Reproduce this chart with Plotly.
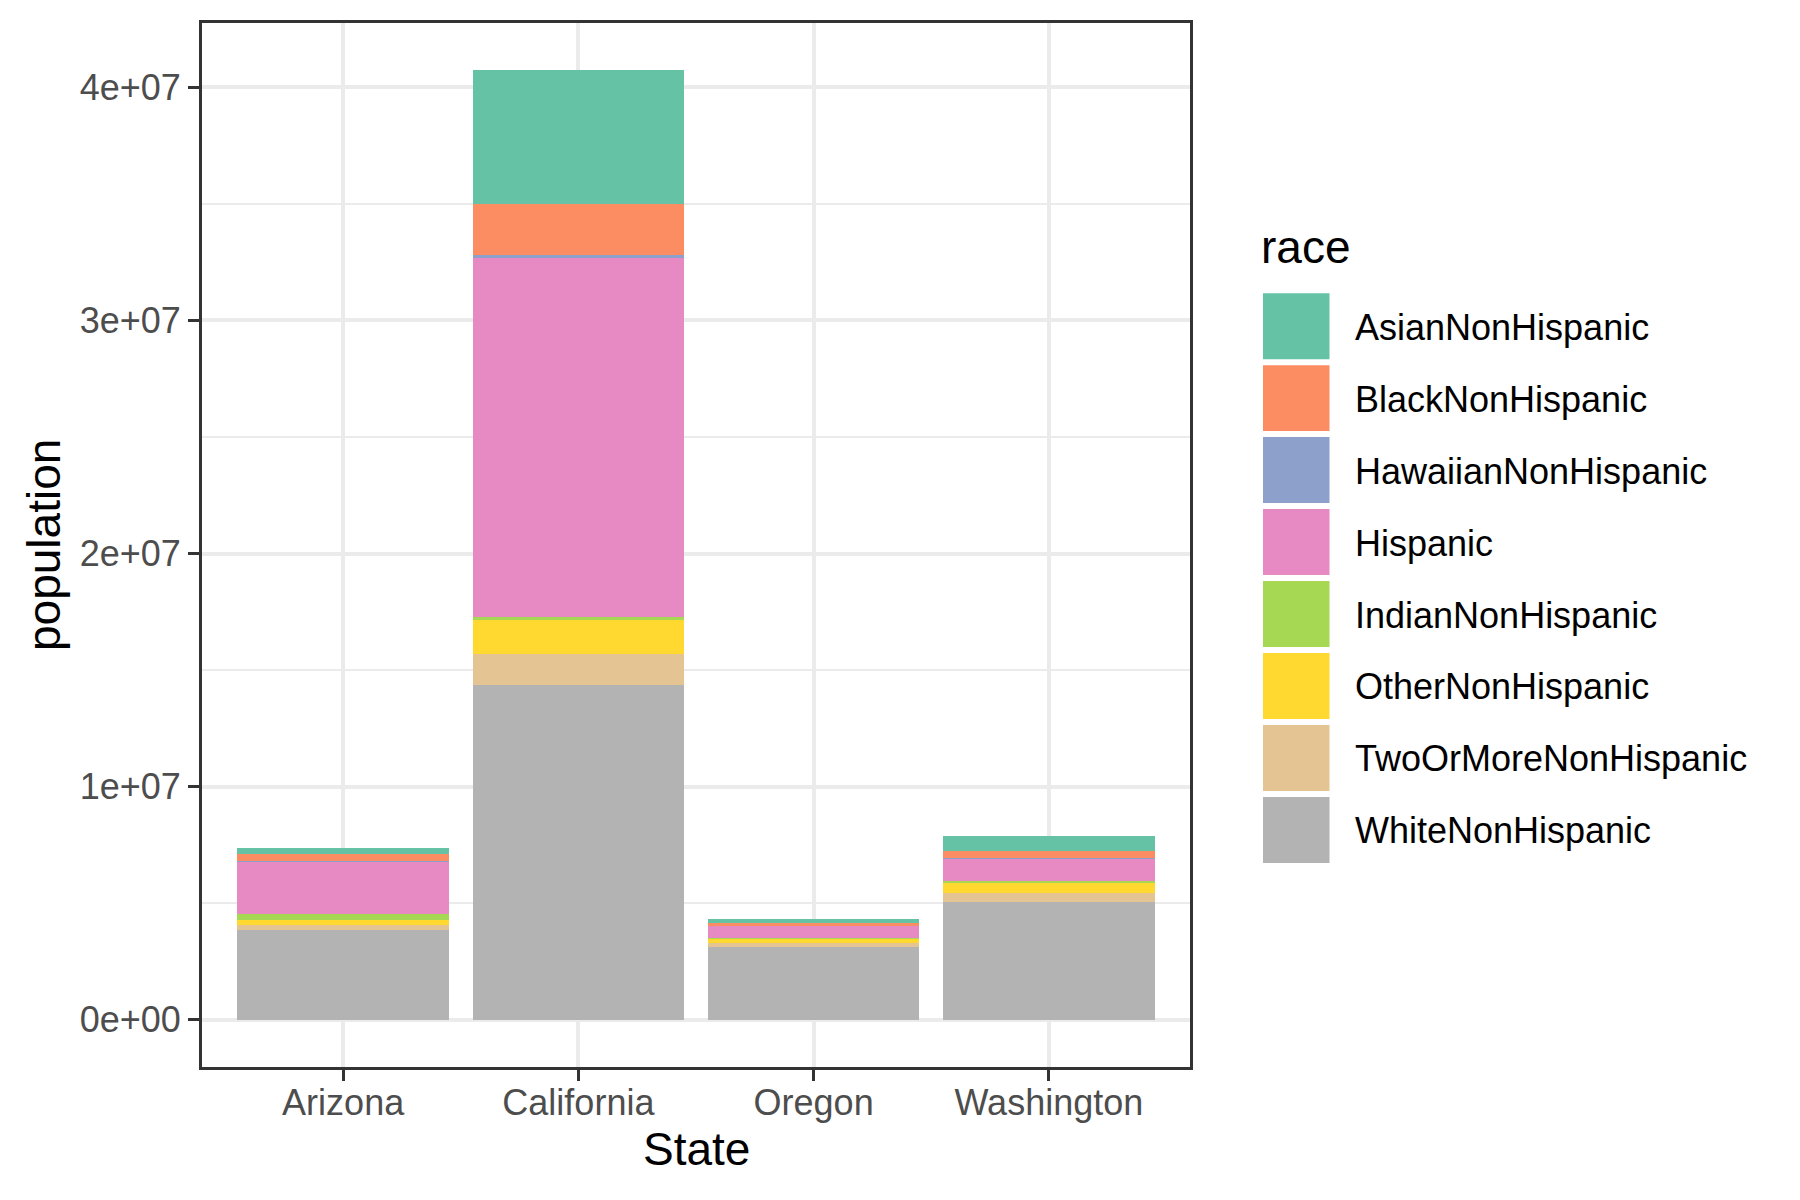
import plotly.graph_objects as go

# ---------------- data ----------------
states = ["Arizona", "California", "Oregon", "Washington"]
races = ["AsianNonHispanic", "BlackNonHispanic", "HawaiianNonHispanic", "Hispanic",
         "IndianNonHispanic", "OtherNonHispanic", "TwoOrMoreNonHispanic", "WhiteNonHispanic"]

asian    = [230000, 5750000, 190000, 660000]
black    = [300000, 2150000,  70000, 290000]
hawaiian = [ 12000,  130000,  15000,  50000]
hispanic = [2290000, 15440000, 530000, 950000]
indian   = [240000,  120000,  40000,  70000]
other    = [210000, 1450000, 180000, 440000]
two_more = [200000, 1330000, 190000, 400000]
white    = [3860000, 14360000, 3100000, 5030000]

series = [asian, black, hawaiian, hispanic, indian, other, two_more, white]
colors = ["#66C2A5", "#FC8D62", "#8DA0CB", "#E78AC3",
          "#A6D854", "#FFD92F", "#E5C494", "#B3B3B3"]

y_tick_vals = [0, 1e7, 2e7, 3e7, 4e7]
y_tick_text = ["0e+00", "1e+07", "2e+07", "3e+07", "4e+07"]
y_minor_vals = [5e6, 1.5e7, 2.5e7, 3.5e7]

# ---------------- geometry (pixels) ----------------
W, H = 1800, 1200
PL, PR, PT, PB = 202, 1190, 23, 1067.5
FONT = "Liberation Sans, Arial, Helvetica, sans-serif"


def px_x(x):
    return (x - PL) / (PR - PL)


def px_y(y):
    return (PB - y) / (PB - PT)


fig = go.Figure()
# ggplot stacks first level on top -> add in reverse order
for name, vals, col in reversed(list(zip(races, series, colors))):
    fig.add_trace(go.Bar(
        x=states, y=vals, name=name, width=0.9,
        marker=dict(color=col, line=dict(width=0)),
        showlegend=False,
    ))

ymax = max(sum(s[i] for s in series) for i in range(len(states)))
pad = 0.05 * ymax

grid = "#EBEBEB"
dark = "#333333"

fig.update_layout(
    width=W, height=H, autosize=False,
    barmode="stack",
    plot_bgcolor="white", paper_bgcolor="white",
    margin=dict(l=PL, r=W - PR, t=PT, b=H - PB, pad=0),
    font=dict(family=FONT, color="black"),
    xaxis=dict(
        type="category", range=[-0.6, len(states) - 0.4],
        showgrid=True, gridcolor=grid, gridwidth=3.5,
        ticks="outside", ticklen=11, tickwidth=3, tickcolor=dark,
        tickfont=dict(size=36, color="#4D4D4D", family=FONT),
        ticklabelstandoff=-9,
        showline=True, linecolor=dark, linewidth=3, mirror=True,
        zeroline=False,
    ),
    yaxis=dict(
        range=[-pad, ymax + pad],
        tickmode="array", tickvals=y_tick_vals, ticktext=y_tick_text,
        showgrid=True, gridcolor=grid, gridwidth=3.5,
        minor=dict(tickmode="array", tickvals=y_minor_vals, showgrid=True,
                   gridcolor=grid, gridwidth=1.8, ticks=""),
        ticks="outside", ticklen=11, tickwidth=3, tickcolor=dark,
        tickfont=dict(size=36, color="#4D4D4D", family=FONT),
        ticklabelstandoff=0,
        showline=True, linecolor=dark, linewidth=3, mirror=True,
        zeroline=False,
    ),
)

annotations = [
    dict(text="State", x=px_x((PL + PR) / 2), y=px_y(1150), xref="paper", yref="paper",
         xanchor="center", yanchor="middle", showarrow=False,
         font=dict(size=46, color="black", family=FONT)),
    dict(text="population", x=px_x(44), y=px_y((PT + PB) / 2), xref="paper", yref="paper",
         xanchor="center", yanchor="middle", textangle=-90, showarrow=False,
         font=dict(size=46, color="black", family=FONT)),
    dict(text="race", x=px_x(1259), y=px_y(247), xref="paper", yref="paper",
         xanchor="left", yanchor="middle", showarrow=False,
         font=dict(size=46, color="black", family=FONT)),
]

shapes = []
key_top0, key_pitch, key_h = 293.3, 72, 66
for i, (name, col) in enumerate(zip(races, colors)):
    top = key_top0 + key_pitch * i
    shapes.append(dict(type="rect", xref="paper", yref="paper",
                       x0=px_x(1263), x1=px_x(1329.5), y0=px_y(top + key_h), y1=px_y(top),
                       fillcolor=col, line=dict(width=0), layer="above"))
    annotations.append(dict(text=name, x=px_x(1353), y=px_y(top + key_h / 2 + 1),
                            xref="paper", yref="paper", xanchor="left", yanchor="middle",
                            showarrow=False,
                            font=dict(size=36, color="black", family=FONT)))

fig.update_layout(annotations=annotations, shapes=shapes)

fig.write_html("out.html")
